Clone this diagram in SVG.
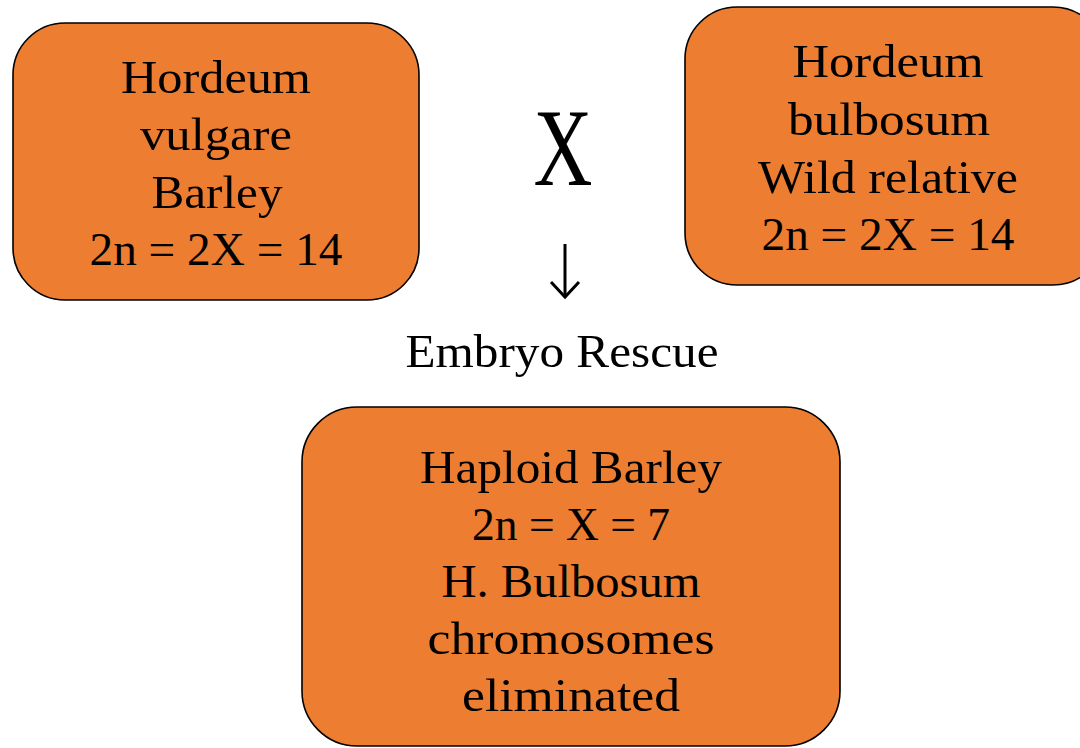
<svg xmlns="http://www.w3.org/2000/svg" width="1080" height="748" viewBox="0 0 1080 748">
<style>
.box{fill:#ED7D31;stroke:#000;stroke-width:1.6}
.t{font-family:"Liberation Serif","DejaVu Serif",serif;font-size:47px;fill:#000;text-anchor:middle}
</style>
<rect width="1080" height="748" fill="#fff"/>
<g id="node-vulgare">
<rect class="box" x="13" y="23" width="406" height="277" rx="52"/>
<text class="t" x="216" y="93" textLength="190" lengthAdjust="spacingAndGlyphs">Hordeum</text>
<text class="t" x="216" y="150" textLength="152" lengthAdjust="spacingAndGlyphs">vulgare</text>
<text class="t" x="217" y="208" textLength="131" lengthAdjust="spacingAndGlyphs">Barley</text>
<text class="t" x="216" y="265" textLength="253" lengthAdjust="spacingAndGlyphs">2n = 2X = 14</text>
</g>
<g id="node-bulbosum">
<rect class="box" x="685" y="7" width="420" height="278" rx="52"/>
<text class="t" x="888" y="77" textLength="191" lengthAdjust="spacingAndGlyphs">Hordeum</text>
<text class="t" x="889" y="135" textLength="202" lengthAdjust="spacingAndGlyphs">bulbosum</text>
<text class="t" x="888" y="193" textLength="260" lengthAdjust="spacingAndGlyphs">Wild relative</text>
<text class="t" x="888" y="250" textLength="253" lengthAdjust="spacingAndGlyphs">2n = 2X = 14</text>
</g>
<g id="cross">
<text class="t" x="563" y="185" style="font-size:110px" textLength="59" lengthAdjust="spacingAndGlyphs">X</text>
</g>
<g id="connectors">
<line x1="565" y1="244" x2="565" y2="296" stroke="#000" stroke-width="3"/>
<polyline points="551,282 565,297 579,282" fill="none" stroke="#000" stroke-width="3"/>
</g>
<g id="label-embryo">
<text class="t" x="562" y="367" textLength="313" lengthAdjust="spacingAndGlyphs">Embryo Rescue</text>
</g>
<g id="node-haploid">
<rect class="box" x="302" y="407" width="538" height="339" rx="55"/>
<text class="t" x="571" y="483" textLength="302" lengthAdjust="spacingAndGlyphs">Haploid Barley</text>
<text class="t" x="571" y="540" textLength="198" lengthAdjust="spacingAndGlyphs">2n = X = 7</text>
<text class="t" x="571" y="597" textLength="259" lengthAdjust="spacingAndGlyphs">H. Bulbosum</text>
<text class="t" x="571" y="654" textLength="287" lengthAdjust="spacingAndGlyphs">chromosomes</text>
<text class="t" x="571" y="711" textLength="218" lengthAdjust="spacingAndGlyphs">eliminated</text>
</g>
</svg>
